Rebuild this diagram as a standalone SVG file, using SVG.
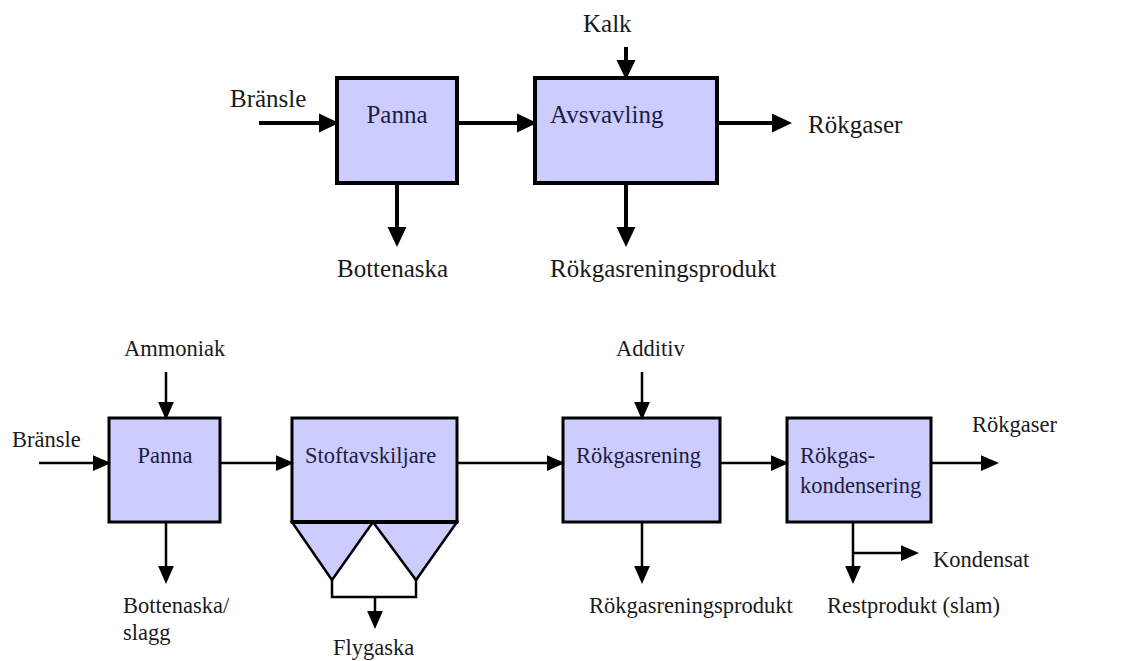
<svg xmlns="http://www.w3.org/2000/svg" width="1134" height="661" viewBox="0 0 1134 661">
<style>
  .t { font-family: "Liberation Serif", "Times New Roman", serif; fill: #1a1a1a; }
  .top { font-size: 25px; }
  .bot { font-size: 22.5px; }
  .in { fill: #1c1c44; }
  .box { fill: #ccccff; stroke: #000; }
  .b1 { stroke-width: 4; }
  .b2 { stroke-width: 3; }
  .c1 { stroke: #000; stroke-width: 4; fill: none; }
  .c2 { stroke: #000; stroke-width: 2.5; fill: none; }
</style>
<defs>
  <marker id="ah1" markerUnits="userSpaceOnUse" markerWidth="20" markerHeight="20" refX="0" refY="8.5" orient="auto" viewBox="0 0 18 17">
    <path d="M0,0 L18,8.5 L0,17 Z" fill="#000"/>
  </marker>
  <marker id="ah2" markerUnits="userSpaceOnUse" markerWidth="18" markerHeight="16" refX="0" refY="7" orient="auto" viewBox="0 0 16 14">
    <path d="M0,0 L16,7 L0,14 Z" fill="#000"/>
  </marker>
</defs>
<rect width="1134" height="661" fill="#fff"/>

<!-- top diagram nodes -->
<g id="top-panna">
  <rect class="box b1" x="337" y="78" width="120" height="105"/>
  <text class="t top in" x="397" y="123" text-anchor="middle">Panna</text>
</g>
<g id="top-avsvavling">
  <rect class="box b1" x="535" y="78" width="182" height="105"/>
  <text class="t top in" x="550" y="123">Avsvavling</text>
</g>
<g id="top-labels">
  <text class="t top" x="230" y="107">Bränsle</text>
  <text class="t top" x="583" y="32">Kalk</text>
  <text class="t top" x="808" y="133">Rökgaser</text>
  <text class="t top" x="337" y="277">Bottenaska</text>
  <text class="t top" x="550" y="277">Rökgasreningsprodukt</text>
</g>

<!-- bottom diagram nodes -->
<g id="bot-panna">
  <rect class="box b2" x="109" y="418" width="111" height="104"/>
  <text class="t bot in" x="165" y="463" text-anchor="middle">Panna</text>
</g>
<g id="bot-stoft">
  <rect class="box b2" x="292" y="418" width="165" height="104"/>
  <path d="M292,522 L332,580 L373,522 Z M373,522 L416,580 L457,522 Z" fill="#ccccff" stroke="#000" stroke-width="2.5" stroke-linejoin="miter"/>
  <line x1="291" y1="522" x2="458" y2="522" stroke="#000" stroke-width="4"/>
  <text class="t bot in" x="305" y="463">Stoftavskiljare</text>
</g>
<g id="bot-rening">
  <rect class="box b2" x="563" y="418" width="157" height="104"/>
  <text class="t bot in" x="576" y="463">Rökgasrening</text>
</g>
<g id="bot-kondens">
  <rect class="box b2" x="787" y="418" width="144" height="104"/>
  <text class="t bot in" x="800" y="463">Rökgas-</text>
  <text class="t bot in" x="800" y="493">kondensering</text>
</g>
<g id="bot-labels">
  <text class="t bot" x="124" y="356">Ammoniak</text>
  <text class="t bot" x="12" y="447">Bränsle</text>
  <text class="t bot" x="123" y="613">Bottenaska/</text>
  <text class="t bot" x="123" y="640">slagg</text>
  <text class="t bot" x="333" y="655">Flygaska</text>
  <text class="t bot" x="616" y="356">Additiv</text>
  <text class="t bot" x="589" y="613">Rökgasreningsprodukt</text>
  <text class="t bot" x="972" y="432">Rökgaser</text>
  <text class="t bot" x="933" y="567">Kondensat</text>
  <text class="t bot" x="827" y="613">Restprodukt (slam)</text>
</g>

<!-- connectors -->
<g id="connectors">
  <!-- top -->
  <line class="c1" x1="259" y1="123" x2="319" y2="123" marker-end="url(#ah1)"/>
  <line class="c1" x1="457" y1="123" x2="517" y2="123" marker-end="url(#ah1)"/>
  <line class="c1" x1="717" y1="123" x2="772" y2="123" marker-end="url(#ah1)"/>
  <line class="c1" x1="626" y1="47" x2="626" y2="60" marker-end="url(#ah1)"/>
  <line class="c1" x1="397" y1="183" x2="397" y2="227" marker-end="url(#ah1)"/>
  <line class="c1" x1="626" y1="183" x2="626" y2="227" marker-end="url(#ah1)"/>
  <!-- bottom -->
  <line class="c2" x1="39" y1="463" x2="93" y2="463" marker-end="url(#ah2)"/>
  <line class="c2" x1="166" y1="372" x2="166" y2="402" marker-end="url(#ah2)"/>
  <line class="c2" x1="220" y1="463" x2="276" y2="463" marker-end="url(#ah2)"/>
  <line class="c2" x1="166" y1="522" x2="166" y2="566" marker-end="url(#ah2)"/>
  <path class="c2" d="M332,580 L332,597 L416,597 L416,580"/>
  <line class="c2" x1="375" y1="597" x2="375" y2="611" marker-end="url(#ah2)"/>
  <line class="c2" x1="457" y1="463" x2="547" y2="463" marker-end="url(#ah2)"/>
  <line class="c2" x1="642" y1="372" x2="642" y2="402" marker-end="url(#ah2)"/>
  <line class="c2" x1="642" y1="522" x2="642" y2="566" marker-end="url(#ah2)"/>
  <line class="c2" x1="720" y1="463" x2="771" y2="463" marker-end="url(#ah2)"/>
  <line class="c2" x1="931" y1="463" x2="981" y2="463" marker-end="url(#ah2)"/>
  <line class="c2" x1="853" y1="522" x2="853" y2="566" marker-end="url(#ah2)"/>
  <line class="c2" x1="853" y1="553" x2="901" y2="553" marker-end="url(#ah2)"/>
</g>
</svg>
